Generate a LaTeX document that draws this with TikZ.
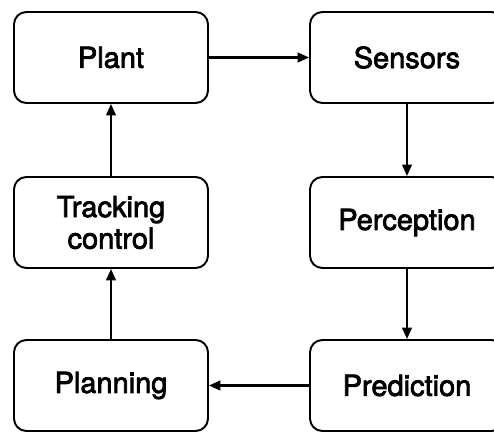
\documentclass[tikz,border=0pt]{standalone}
\usepackage{fontspec}
\setmainfont[FakeBold=2.5]{TeX Gyre Heros}
\usetikzlibrary{arrows.meta,positioning}

\begin{document}
\begin{tikzpicture}[
    x=0.02cm, y=-0.02cm,
    font=\fontsize{16.5pt}{18pt}\selectfont,
    >={Triangle[length=6.5pt,width=5.5pt]},
    stageBox/.style={
        rectangle,
        draw=black,
        line width=1.1pt,
        rounded corners=7pt,
        align=center,
        inner sep=0pt,
        minimum width=3.88cm,
        minimum height=1.82cm
    },
    flowLine/.style={
        line width=1.2pt,
        draw=black,
        ->
    }
]
\useasboundingbox (0,0) rectangle (494,432);
\clip (0,0) rectangle (494,432);

% ==================== LEFT COLUMN ====================
\node[stageBox] (boxPlant) at (111, 57.5) {Plant};
\node[stageBox] (boxTracking) at (111, 222.5) {Tracking\\control};
\node[stageBox] (boxPlanning) at (111, 385.5) {Planning};

% ==================== RIGHT COLUMN ====================
\node[stageBox] (boxSensors) at (407, 57.5) {Sensors};
\node[stageBox] (boxPerception) at (407, 222.5) {Perception};
\node[stageBox] (boxPrediction) at (407, 385.5) {Prediction};

% ==================== LOOP ====================
\draw[flowLine] (boxPlant) -- (boxSensors);
\draw[flowLine] (boxSensors) -- (boxPerception);
\draw[flowLine] (boxPerception) -- (boxPrediction);
\draw[flowLine] (boxPrediction) -- (boxPlanning);
\draw[flowLine] (boxPlanning) -- (boxTracking);
\draw[flowLine] (boxTracking) -- (boxPlant);

\end{tikzpicture}
\end{document}
